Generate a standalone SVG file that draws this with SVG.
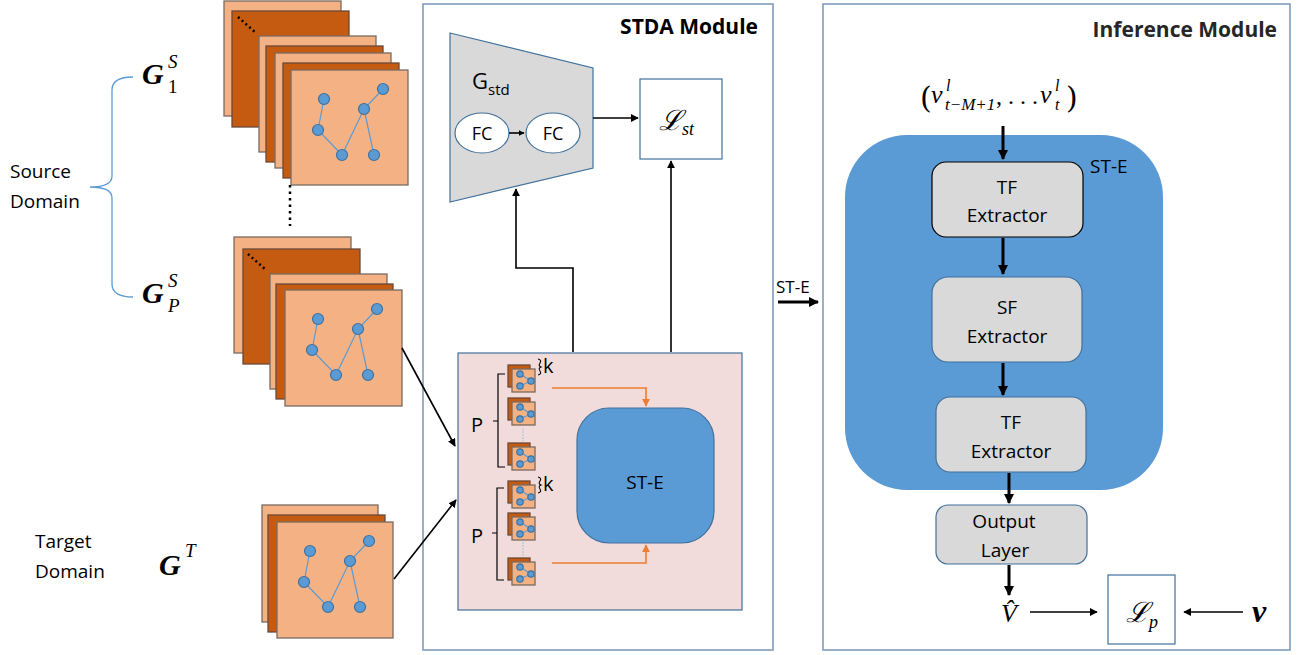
<svg xmlns="http://www.w3.org/2000/svg" width="1309" height="655" viewBox="0 0 1309 655">
<style>
.lt{fill:#F4B183;stroke:#7A6A60;stroke-width:1.3}
.dk{fill:#C55A11;stroke:#6A4A3A;stroke-width:1.3}
.nd{fill:#5B9BD5;stroke:#41719C;stroke-width:1.2}
.ed{stroke:#5B9BD5;stroke-width:1.2;fill:none}
.sans{font-family:"Open Sans","Liberation Sans",sans-serif;fill:#000}
.serif{font-family:"Liberation Serif","DejaVu Serif",serif;fill:#000}
.mod{fill:#fff;stroke:#7896B8;stroke-width:1.5}
.ln{stroke:#000;stroke-width:1.6;fill:none}
.thk{stroke:#000;stroke-width:3;fill:none}
.or{stroke:#ED7D31;stroke-width:1.6;fill:none}
.gbox{fill:#D9D9D9;stroke:#41719C;stroke-width:1.2}
</style>
<defs>
<marker id="ah" viewBox="0 0 10 10" refX="9" refY="5" markerWidth="5" markerHeight="5" orient="auto"><path d="M0,0 L10,5 L0,10 z" fill="#000"/></marker>
<marker id="ahs" viewBox="0 0 10 10" refX="9" refY="5" markerWidth="3.5" markerHeight="3.5" orient="auto"><path d="M0,0 L10,5 L0,10 z" fill="#000"/></marker>
<marker id="aho" viewBox="0 0 10 10" refX="9" refY="5" markerWidth="5" markerHeight="5" orient="auto"><path d="M0,0 L10,5 L0,10 z" fill="#ED7D31"/></marker>
<g id="graph">
<path class="ed" d="M33,29 L27,60 L51,85 L73,39 L92,19 M73,39 L83,85"/>
<circle class="nd" cx="33" cy="29" r="5.5"/>
<circle class="nd" cx="92" cy="19" r="5.5"/>
<circle class="nd" cx="73" cy="39" r="5.5"/>
<circle class="nd" cx="27" cy="60" r="5.5"/>
<circle class="nd" cx="51" cy="85" r="5.5"/>
<circle class="nd" cx="83" cy="85" r="5.5"/>
</g>
<g id="icon">
<rect class="dk" x="0" y="0" width="22" height="22" stroke-width="0.8"/>
<rect class="lt" x="4" y="4" width="23" height="23" stroke-width="0.8"/>
<path class="ed" d="M12,9 L23,16 L12,21" stroke-width="0.9"/>
<circle class="nd" cx="12" cy="9" r="3.2" stroke-width="0.8"/>
<circle class="nd" cx="23" cy="16" r="3.2" stroke-width="0.8"/>
<circle class="nd" cx="12" cy="21" r="3.2" stroke-width="0.8"/>
</g>
</defs>

<g id="source-domain">
<text class="sans" x="10" y="178" font-size="19">Source</text>
<text class="sans" x="10" y="208" font-size="19">Domain</text>
<path d="M133,77 Q112,77 112,90 L112,176 Q112,187 90,187 Q112,187 112,198 L112,284 Q112,297 133,297" fill="none" stroke="#5B9BD5" stroke-width="1.3"/>
<text class="serif" x="142" y="84" font-size="30" font-weight="bold" font-style="italic">G</text>
<text class="serif" x="168" y="68" font-size="19" font-style="italic">S</text>
<text class="serif" x="168" y="93" font-size="19">1</text>
<text class="serif" x="142" y="303" font-size="30" font-weight="bold" font-style="italic">G</text>
<text class="serif" x="168" y="287" font-size="19" font-style="italic">S</text>
<text class="serif" x="168" y="312" font-size="19" font-style="italic">P</text>
</g>

<g id="source-stack-1">
<rect class="lt" x="224" y="1" width="117" height="115"/>
<rect class="dk" x="232" y="11" width="117" height="116"/>
<line x1="238" y1="17" x2="256" y2="33" stroke="#000" stroke-width="2.5" stroke-dasharray="2,3"/>
<rect class="lt" x="259" y="36" width="117" height="116"/>
<rect class="dk" x="266" y="46" width="117" height="116"/>
<rect class="lt" x="275" y="53" width="116" height="115"/>
<rect class="dk" x="283" y="63" width="116" height="115"/>
<rect class="lt" x="291" y="70" width="117" height="115"/>
<use href="#graph" x="291" y="70"/>
<line x1="290" y1="185" x2="290" y2="226" stroke="#000" stroke-width="2.5" stroke-dasharray="2.5,4"/>
</g>

<g id="source-stack-p">
<rect class="lt" x="234" y="237" width="117" height="116"/>
<rect class="dk" x="243" y="249" width="117" height="115"/>
<line x1="248" y1="254" x2="266" y2="270" stroke="#000" stroke-width="2.5" stroke-dasharray="2,3"/>
<rect class="lt" x="270" y="274" width="117" height="115"/>
<rect class="dk" x="276" y="284" width="117" height="115"/>
<rect class="lt" x="285" y="290" width="117" height="116"/>
<use href="#graph" x="285" y="290"/>
</g>

<g id="target-domain">
<text class="sans" x="35" y="548" font-size="19">Target</text>
<text class="sans" x="35" y="578" font-size="19">Domain</text>
<text class="serif" x="159" y="575" font-size="30" font-weight="bold" font-style="italic">G</text>
<text class="serif" x="185" y="557" font-size="19" font-style="italic">T</text>
<rect class="lt" x="262" y="505" width="116" height="117"/>
<rect class="dk" x="268" y="515" width="117" height="117"/>
<rect class="lt" x="277" y="522" width="116" height="116"/>
<use href="#graph" x="277" y="522"/>
</g>

<g id="stda-module">
<rect class="mod" x="423" y="4" width="350" height="646"/>
<text class="sans" x="758" y="34" font-size="21" font-weight="bold" text-anchor="end">STDA Module</text>
</g>

<g id="g-std">
<polygon points="450,33 593,68 593,168 450,202" fill="#D9D9D9" stroke="#41719C" stroke-width="1.2"/>
<text class="sans" x="472" y="89" font-size="22">G<tspan font-size="15" dy="6">std</tspan></text>
<ellipse cx="482" cy="133" rx="27" ry="20" fill="#fff" stroke="#41719C" stroke-width="1.2"/>
<text class="sans" x="482" y="140" font-size="18" text-anchor="middle">FC</text>
<ellipse cx="553" cy="133" rx="27" ry="20" fill="#fff" stroke="#41719C" stroke-width="1.2"/>
<text class="sans" x="553" y="140" font-size="18" text-anchor="middle">FC</text>
</g>

<g id="l-st">
<rect x="640" y="79" width="82" height="80" fill="#fff" stroke="#41719C" stroke-width="1.2"/>
<text class="serif" x="659" y="130" font-size="28" font-style="italic" font-family="'DejaVu Serif',serif">ℒ<tspan font-size="18" dy="5">st</tspan></text>
</g>

<g id="adaptation-box">
<rect x="458" y="353" width="284" height="257" fill="#F2DCDB" stroke="#41719C" stroke-width="1.2"/>
<use href="#icon" x="508" y="365"/>
<use href="#icon" x="508" y="398"/>
<line x1="523" y1="428" x2="523" y2="441" stroke="#9DC3E6" stroke-width="1" stroke-dasharray="2,1"/>
<use href="#icon" x="508" y="443"/>
<use href="#icon" x="508" y="481"/>
<use href="#icon" x="508" y="513"/>
<line x1="523" y1="542" x2="523" y2="556" stroke="#9DC3E6" stroke-width="1" stroke-dasharray="2,1"/>
<use href="#icon" x="508" y="558"/>
<path d="M505,374 L498,374 L498,467 L505,467 M498,421 L493,421" fill="none" stroke="#000" stroke-width="1.2"/>
<path d="M504,488 L497,488 L497,580 L504,580 M497,533 L492,533" fill="none" stroke="#000" stroke-width="1.2"/>
<text class="sans" x="471" y="432" font-size="20">P</text>
<text class="sans" x="471" y="543" font-size="20">P</text>
<path d="M538,359 Q542,360 540,363 Q538,366 541,367 Q538,368 540,371 Q542,374 538,375" fill="none" stroke="#000" stroke-width="1.1"/>
<text class="sans" x="543" y="373" font-size="20">k</text>
<path d="M538,477 Q542,478 540,481 Q538,484 541,485 Q538,486 540,489 Q542,492 538,493" fill="none" stroke="#000" stroke-width="1.1"/>
<text class="sans" x="543" y="491" font-size="20">k</text>
</g>

<g id="st-e-inner">
<rect x="577" y="408" width="137" height="135" rx="32" fill="#5B9BD5" stroke="#41719C" stroke-width="1.2"/>
<text class="sans" x="645" y="489" font-size="19" text-anchor="middle">ST-E</text>
</g>

<g id="inference-module">
<rect class="mod" x="823" y="4" width="467" height="646"/>
<text class="sans" x="1277" y="37" font-size="21" font-weight="bold" text-anchor="end" style="fill:#262626">Inference Module</text>
<g id="input-seq" class="serif">
<text x="920" y="108" font-size="30" font-family="'DejaVu Serif',serif" font-weight="200">(</text>
<text x="931" y="103" font-size="26" font-style="italic">v</text>
<text x="946" y="91" font-size="16" font-style="italic">l</text>
<text x="945" y="110" font-size="17" font-style="italic">t−M+1</text>
<text x="996" y="104" font-size="24">, . . .</text>
<text x="1040" y="103" font-size="26" font-style="italic">v</text>
<text x="1055" y="91" font-size="16" font-style="italic">l</text>
<text x="1055" y="110" font-size="16" font-style="italic">t</text>
<text x="1066" y="108" font-size="30" font-family="'DejaVu Serif',serif" font-weight="200">)</text>
</g>
</g>

<g id="st-e-outer">
<rect x="845" y="135" width="318" height="355" rx="62" fill="#5B9BD5"/>
<text class="sans" x="1090" y="173" font-size="19">ST-E</text>
</g>

<g id="tf-extractor-1">
<rect x="932" y="162" width="151" height="75" rx="14" fill="#D9D9D9" stroke="#000" stroke-width="1.2"/>
<text class="sans" x="1007" y="194" font-size="19" text-anchor="middle">TF</text>
<text class="sans" x="1007" y="222" font-size="19" text-anchor="middle">Extractor</text>
</g>
<g id="sf-extractor">
<rect class="gbox" x="932" y="277" width="150" height="85" rx="16"/>
<text class="sans" x="1007" y="314" font-size="19" text-anchor="middle">SF</text>
<text class="sans" x="1007" y="343" font-size="19" text-anchor="middle">Extractor</text>
</g>
<g id="tf-extractor-2">
<rect class="gbox" x="936" y="397" width="150" height="75" rx="14"/>
<text class="sans" x="1011" y="429" font-size="19" text-anchor="middle">TF</text>
<text class="sans" x="1011" y="458" font-size="19" text-anchor="middle">Extractor</text>
</g>
<g id="output-layer">
<rect class="gbox" x="936" y="505" width="151" height="59" rx="12"/>
<text class="sans" x="1004" y="528" font-size="19" text-anchor="middle">Output</text>
<text class="sans" x="1005" y="557" font-size="19" text-anchor="middle">Layer</text>
</g>
<g id="v-hat">
<text class="serif" x="1009" y="622" font-size="26" font-style="italic" text-anchor="middle">V̂</text>
</g>
<g id="l-p">
<rect x="1108" y="575" width="67" height="69" fill="#fff" stroke="#41719C" stroke-width="1.2"/>
<text class="serif" x="1126" y="622" font-size="28" font-style="italic" font-family="'DejaVu Serif',serif">ℒ<tspan font-size="18" dy="6">p</tspan></text>
</g>
<g id="v-true">
<text class="serif" x="1252" y="622" font-size="32" font-style="italic" font-weight="bold">v</text>
</g>

<g id="connectors">
<line class="ln" x1="402" y1="348" x2="455" y2="446" marker-end="url(#ah)"/>
<line class="ln" x1="394" y1="579" x2="456" y2="500" marker-end="url(#ah)"/>
<line class="ln" x1="509" y1="133" x2="524" y2="133" marker-end="url(#ahs)"/>
<line class="ln" x1="593" y1="118" x2="638" y2="118" marker-end="url(#ah)"/>
<line class="ln" x1="671" y1="352" x2="671" y2="161" marker-end="url(#ah)"/>
<path class="ln" d="M573,352 L573,268 L516,268 L516,189" marker-end="url(#ah)"/>
<path class="or" d="M552,388 L646,388 L646,406" marker-end="url(#aho)"/>
<path class="or" d="M552,563 L646,563 L646,545" marker-end="url(#aho)"/>
<line class="thk" x1="778" y1="302" x2="818" y2="302" marker-end="url(#ahs)"/>
<text class="sans" x="776" y="293" font-size="17">ST-E</text>
<line class="thk" x1="1003" y1="126" x2="1003" y2="159" marker-end="url(#ahs)"/>
<line class="thk" x1="1003" y1="238" x2="1003" y2="274" marker-end="url(#ahs)"/>
<line class="thk" x1="1003" y1="363" x2="1003" y2="395" marker-end="url(#ahs)"/>
<line class="thk" x1="1009" y1="473" x2="1009" y2="503" marker-end="url(#ahs)"/>
<line class="thk" x1="1009" y1="565" x2="1009" y2="595" marker-end="url(#ahs)"/>
<line class="ln" x1="1030" y1="612" x2="1097" y2="612" marker-end="url(#ah)"/>
<line class="ln" x1="1243" y1="612" x2="1184" y2="612" marker-end="url(#ah)"/>
</g>
</svg>
